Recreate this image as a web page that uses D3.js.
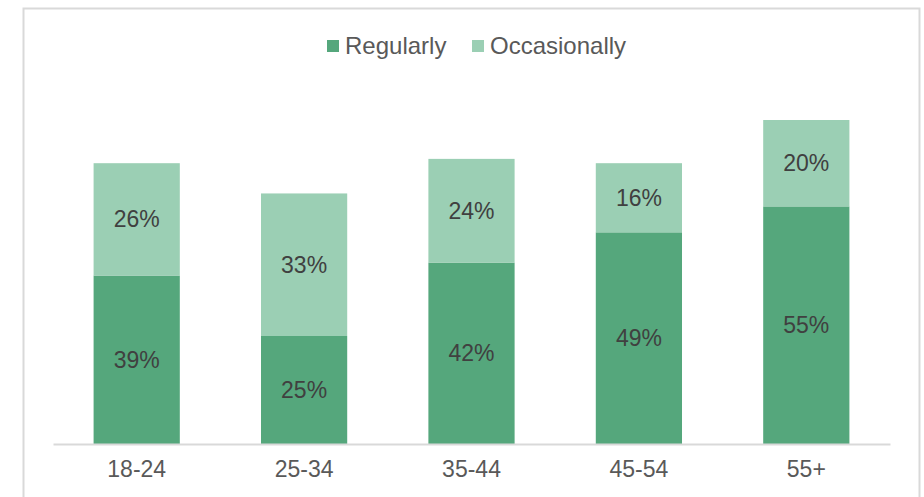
<!DOCTYPE html>
<html>
<head>
<meta charset="utf-8">
<script src="https://cdn.jsdelivr.net/npm/d3@7"></script>
<style>
  body { margin: 0; background: #fff; }
  svg { display: block; font-family: "Liberation Sans", Arial, sans-serif; }
</style>
</head>
<body>
<svg width="924" height="497"></svg>
<script>
var groups = ["18-24", "25-34", "35-44", "45-54", "55+"]
var regularly = [39, 25, 42, 49, 55]
var occasionally = [26, 33, 24, 16, 20]
var seriesNames = ["Regularly", "Occasionally"]
var colors = ["#55a77c", "#9bcfb4"]

var width = 924, height = 497

var svg = d3.select("svg")

// outer frame
svg.append("rect")
  .attr("x", 23.5).attr("y", 8.5)
  .attr("width", 896).attr("height", 500)
  .attr("fill", "none")
  .attr("stroke", "#d9d9d9")
  .attr("stroke-width", 2)

var data = groups.map((g, i) => ({group: g, Regularly: regularly[i], Occasionally: occasionally[i]}))
var stack = d3.stack().keys(seriesNames)(data)

var x = d3.scaleBand()
  .domain(groups)
  .range([53, 890])
  .paddingInner(0.485)
  .paddingOuter(0.2425)

var y = d3.scaleLinear()
  .domain([0, 100])
  .range([444, 12])

var color = d3.scaleOrdinal(seriesNames, colors)

svg.append("g")
  .selectAll("g")
  .data(stack)
  .join("g")
  .attr("fill", d => color(d.key))
  .selectAll("rect")
  .data(d => d)
  .join("rect")
  .attr("x", d => x(d.data.group))
  .attr("y", d => y(d[1]))
  .attr("width", x.bandwidth())
  .attr("height", d => y(d[0]) - y(d[1]))

// value labels
svg.append("g")
  .attr("text-anchor", "middle")
  .attr("font-size", 23)
  .attr("fill", "#404040")
  .selectAll("g")
  .data(stack)
  .join("g")
  .selectAll("text")
  .data(d => d.map(v => ({v: v, val: v[1] - v[0]})))
  .join("text")
  .attr("x", d => x(d.v.data.group) + x.bandwidth() / 2)
  .attr("y", d => (y(d.v[0]) + y(d.v[1])) / 2)
  .attr("dy", "0.35em")
  .text(d => d.val + "%")

// axis
var axis = svg.append("g")
  .attr("transform", "translate(0,444)")
  .call(d3.axisBottom(x).tickSize(0).tickPadding(17))
axis.select(".domain").attr("stroke", "#d9d9d9").attr("stroke-width", 2)
axis.selectAll("text")
  .attr("font-size", 23)
  .attr("font-family", "Liberation Sans, Arial, sans-serif")
  .attr("fill", "#595959")

// legend
var legendX = [327, 472]
var legend = svg.append("g")
  .selectAll("g")
  .data(seriesNames)
  .join("g")
  .attr("transform", (d, i) => `translate(${legendX[i]},40)`)
legend.append("rect")
  .attr("width", 12).attr("height", 12)
  .attr("fill", d => color(d))
legend.append("text")
  .attr("x", 18).attr("y", 6)
  .attr("dy", "0.35em")
  .attr("font-size", 24)
  .attr("fill", "#595959")
  .text(d => d)
</script>
</body>
</html>
